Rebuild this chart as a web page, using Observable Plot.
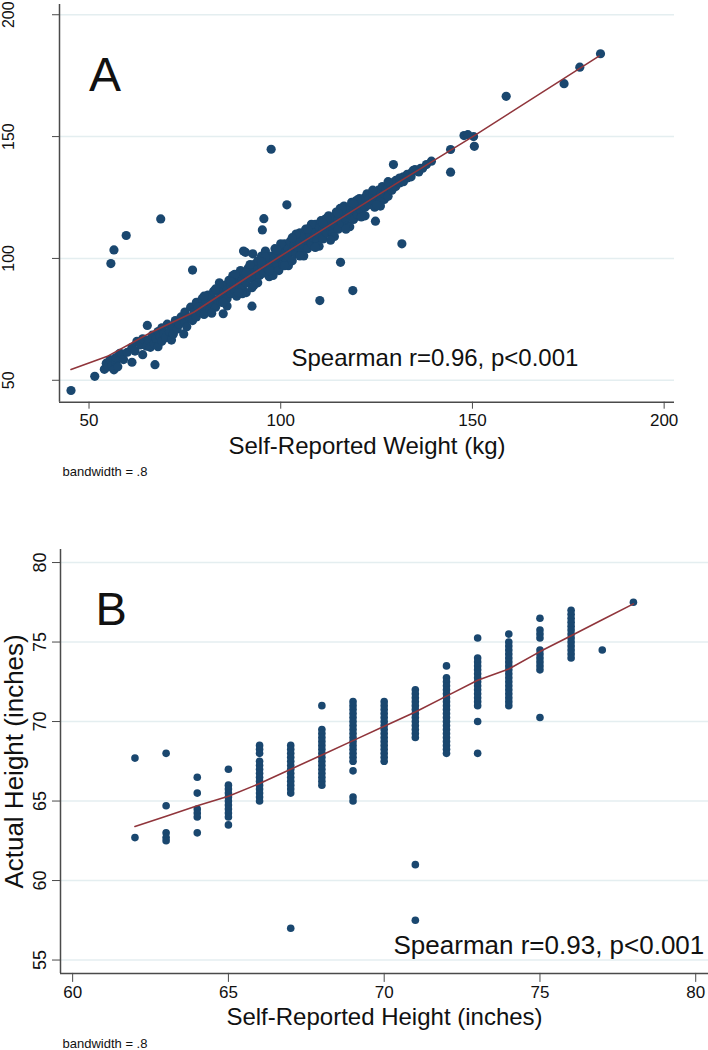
<!DOCTYPE html>
<html><head><meta charset="utf-8">
<script src="https://cdn.jsdelivr.net/npm/d3@7"></script>
<script src="https://cdn.jsdelivr.net/npm/@observablehq/plot@0.6"></script>
<style>
html,body{margin:0;padding:0;background:#fff;}
#chart svg{display:block;}
</style></head><body><div id="chart"></div>
<script>
// ---------- Panel A: weight (kg) ----------
const weightSelf = [45.3,51.5,55.7,56.5,59.7,68.7,67.2,97.5,77,101.6,95.6,95.2,92.5,90.8,92.7,110.2,115.6,118.8,124.7,131.6,129.4,139.3,144.3,144.3,147.8,148.8,150.3,150.5,158.8,173.9,178,183.4,130.9,127,135,136.5,133,132,
54,54.5,55,55.5,56,56.5,57,57,57.5,58,58.6,59,60,61.2,61.2,62,62.5,63.4,64,64,65,65.2,65.5,66,66.5,67,67.5,68,68,68.5,69,69,69.5,70,70.4,71,71.5,72,72,72.5,73,73.5,74,74.7,75,75,75.5,76,76.5,77,77.5,78,78,78.5,79,79.5,80,80,80.5,81,81.5,82,82,82.5,83,83.5,84,84,84.5,85,85,85.5,86,86,86.5,87,87,87.5,88,88,88.5,89,89,89.5,90,90,90.3,90.5,91,91,91.5,92,92,92.5,93,93,93.5,94,94,94.5,95,95,95.5,96,96,96.5,97,97,97.5,98,98,98.5,99,99,99.5,100,100,100.5,101,101,101.5,102,102,102.5,103,103,103.5,104,104,104.5,105,105,105.5,106,106,106.5,107,107,107.5,108,108,108.5,109,109,109.5,110,110,110.5,111,111,111.5,112,112,112.5,113,113,113.5,114,114,114.5,115,115,115.5,116,116,116.5,117,117,117.5,118,118,118.5,119,119,119.5,120,120,120.5,121,121,122,122,122.5,123,123,124,124,124.5,125,125.5,126,126,126.5,127,127.5,128,128,129,129,130,130,131,131,132,133,134,134.5,134,136,137,138,
80,82,84,86,88,90,92,94,96,98,100,102,104,106,108,110,112,114,116,118,120,122,124,126,128,83,87,91,95,99,103,107,111,115,119,85,89,93,97,101,105,109,113,117,121,125];
const weightActual = [45.8,51.6,97.9,103.5,109.4,116.2,56.4,144.8,95.2,122,116.3,111.7,80.4,102.5,101.9,82.7,98.4,86.8,115.3,106,138.5,139.9,144.7,135.4,150.4,150.8,150,146,166.5,171.7,178.5,184,132,124.2,136.5,137,134.5,133.5,
54.5,57,55.5,58.5,56,54.3,57.5,59.3,55.5,61,60.8,58.5,61.5,57.4,63.5,62,66,64.5,60.5,67,64,72.5,66.5,63.5,68.5,65,67,63.8,70,68,66,71.5,69,67.5,73,70,66.5,72,69,74.5,71,73,76,69,74,78,72,76,80,74.5,78,82,76,80,78,83.5,80.5,77,82.5,85,79,81.5,84,86.5,80,83,86,88,82,77.3,85,89,83.5,87,91,85.5,89,93,87,91,84.5,89,93,95,88,91,103,94,86,90,96,92,95,88,94,97.5,91,95.5,99,93,97,101,94,99,103,96,98.5,92.5,101,96,100,104,98,102,95,100,104,97.5,102,106,99,104,101,107,103,99,105.5,108,102,104.5,107,110.5,103,105.5,109,112,107,104,110,112.5,106,108.5,111,114,107.5,110,113,115.5,108,112,116,110.5,114,117.5,112,115.5,110,114,117,119,112,116,120.5,114.5,118,121.5,116,119.5,113.5,118,121,123,116,120,123.5,118,121.5,124.5,119.5,123,121,125,126.5,122,124.5,123.5,126.5,121,125.5,128,124,127,129.5,126.5,128.5,125.5,129.5,128,131,129.5,132,131,133,131.5,133,135,136,133.5,135.5,137,138.5,
84.5,77.5,90,80.5,93.5,85.5,97.5,90,100.5,93,106,97,110,101,114,105,116.5,109,120.5,113,124,117.5,128,121.5,131.5,87.5,90.5,94,98.5,103.5,108.5,112,114.5,118.5,122.5,82,86,89,95,97,101,104.5,107.5,112,117,122];
const weightFitSelf = [45.3,55,66,77.3,92,105,130,150.5,183];
const weightFitActual = [54.4,60,69.5,77.9,93,106,130.6,150.4,183];
const weightXTicks = [50,100,150,200];
const weightYTicks = [50,100,150,200];
const weightXDomain = [42.3,202.7];
const weightYDomain = [41,204.2];

// ---------- Panel B: height (inches) ----------
const heightColumns = [62,63,64,65,66,67,68,69,70,71,72,73,74,75,76,77,78];
const heightActualByColumn = [
  [67.7,62.7],
  [68,64.7,63,62.7,62.5],
  [66.5,65.5,64.5,64.25,64,63],
  [67,66,65.75,65.5,65.25,65,64.75,64.5,64.25,64,63.5],
  [68.5,68.25,68,67.5,67.25,67,66.75,66.5,66.25,66,65.75,65.5,65.25,65],
  [68.5,68.25,68,67.75,67.5,67.25,67,66.75,66.5,66.25,66,65.75,65.5,57],
  [71,69.5,69.25,69,68.75,68.5,68.25,68,67.75,67.5,67.25,67,66.75,66.5,66.25,66],
  [71.25,71,70.75,70.5,70.25,70,69.75,69.5,69.25,69,68.75,68.5,68.25,68,67.75,67.5,66.9,65.25,65],
  [71.25,71,70.75,70.5,70.25,70,69.75,69.5,69.25,69,68.75,68.5,68.25,68,67.75,67.5],
  [72,71.75,71.5,71.25,71,70.75,70.5,70.25,70,69.75,69.5,69.25,69,61,57.5],
  [73.5,72.75,72.5,72.25,72,71.75,71.5,71.25,71,70.75,70.5,70.25,70,69.75,69.5,69.25,69,68.75,68.5,68.25,68],
  [75.25,74,73.75,73.5,73.25,73,72.75,72.5,72.25,72,71.75,71.5,71.25,71,70,68],
  [75.5,75,74.75,74.5,74.25,74,73.75,73.5,73.25,73,72.75,72.5,72.25,72,71.75,71.5,71.25,71],
  [76.5,75.75,75.5,75.25,74.5,74.25,74,73.75,73.5,73.25,70.25],
  [77,76.75,76.5,76.25,76,75.75,75.5,75.25,75,74.75,74.5,74.25,74],
  [74.5],
  [77.5]
];
const heightFitSelf = [62,63,64,65,66,67,68,69,70,71,72,73,74,75,76,77,78];
const heightFitActual = [63.4,64.05,64.7,65.3,66.1,67.0,67.9,68.8,69.7,70.6,71.6,72.6,73.3,74.4,75.4,76.4,77.4];
const heightXTicks = [60,65,70,75,80];
const heightYTicks = [55,60,65,70,75,80];
const heightXDomain = [59.61,80.41];
const heightYDomain = [54.16,80.82];

// ---------- styling ----------
const DOT = "#1a476f", FIT = "#90353b", GRID = "#e4eef0", AXIS = "#4a4a4a", INK = "#111";
const FONT = "'Liberation Sans', Arial, sans-serif";

const weightData = weightSelf.map((s, i) => ({s, a: weightActual[i]}));
const weightFit = weightFitSelf.map((s, i) => ({s, a: weightFitActual[i]}));
const heightData = heightColumns.flatMap((s, i) => heightActualByColumn[i].map(a => ({s, a})));
const heightFit = heightFitSelf.map((s, i) => ({s, a: heightFitActual[i]}));

const chartA = Plot.plot({
  width: 708, height: 490,
  marginLeft: 59, marginRight: 34, marginTop: 4, marginBottom: 88.3,
  style: {fontFamily: FONT, background: "white", color: INK},
  x: {domain: weightXDomain},
  y: {domain: weightYDomain},
  marks: [
    Plot.ruleY(weightYTicks, {stroke: GRID, strokeWidth: 1.5}),
    Plot.ruleX([weightXDomain[0]], {stroke: AXIS, strokeWidth: 1.5}),
    Plot.ruleY([weightYDomain[0]], {stroke: AXIS, strokeWidth: 1.5}),
    Plot.axisX(weightXTicks, {tickSize: 7, tickPadding: 5, fontSize: 17, label: null, color: INK, stroke: AXIS}),
    Plot.axisY(weightYTicks, {tickSize: 7, tickPadding: 39, tickRotate: -90, fontSize: 16, label: null, color: INK, stroke: AXIS}),
    Plot.dot(weightData, {x: "s", y: "a", r: 4.6, fill: DOT, stroke: "none"}),
    Plot.line(weightFit, {x: "s", y: "a", stroke: FIT, strokeWidth: 1.6}),
    Plot.text(["A"], {text: d => d, frameAnchor: "top-left", dx: 29.6, dy: 86.7, lineAnchor: "bottom", textAnchor: "start", fontSize: 48, fill: INK}),
    Plot.text(["Spearman r=0.96, p<0.001"], {text: d => d, frameAnchor: "bottom-left", dx: 232, dy: -36.7, lineAnchor: "bottom", textAnchor: "start", fontSize: 24, fill: INK}),
    Plot.text(["Self-Reported Weight (kg)"], {text: d => d, frameAnchor: "bottom", dy: 52, lineAnchor: "bottom", textAnchor: "middle", fontSize: 24, fill: INK}),
    Plot.text(["bandwidth = .8"], {text: d => d, frameAnchor: "bottom-left", dx: 3, dy: 74, lineAnchor: "bottom", textAnchor: "start", fontSize: 13, fill: INK})
  ]
});

const chartB = Plot.plot({
  width: 708, height: 560,
  marginLeft: 60, marginRight: 0, marginTop: 59, marginBottom: 77.1,
  style: {fontFamily: FONT, background: "white", color: INK},
  x: {domain: heightXDomain},
  y: {domain: heightYDomain},
  marks: [
    Plot.ruleY(heightYTicks, {stroke: GRID, strokeWidth: 1.5}),
    Plot.ruleX([heightXDomain[0]], {stroke: AXIS, strokeWidth: 1.5}),
    Plot.ruleY([heightYDomain[0]], {stroke: AXIS, strokeWidth: 1.5}),
    Plot.axisX(heightXTicks, {tickSize: 9, tickPadding: 4, fontSize: 17, label: null, color: INK, stroke: AXIS}),
    Plot.axisY(heightYTicks, {tickSize: 8, tickPadding: 7, tickRotate: -90, fontSize: 18, label: null, color: INK, stroke: AXIS}),
    Plot.dot(heightData, {x: "s", y: "a", r: 3.8, fill: DOT, stroke: "none"}),
    Plot.line(heightFit, {x: "s", y: "a", stroke: FIT, strokeWidth: 1.6}),
    Plot.text(["B"], {text: d => d, frameAnchor: "top-left", dx: 35, dy: 75.6, lineAnchor: "bottom", textAnchor: "start", fontSize: 47, fill: INK}),
    Plot.text(["Spearman r=0.93, p<0.001"], {text: d => d, frameAnchor: "bottom-left", dx: 333, dy: -19.6, lineAnchor: "bottom", textAnchor: "start", fontSize: 26, fill: INK}),
    Plot.text(["Self-Reported Height (inches)"], {text: d => d, frameAnchor: "bottom", dy: 51.5, lineAnchor: "bottom", textAnchor: "middle", fontSize: 24, fill: INK}),
    Plot.text(["Actual Height (inches)"], {text: d => d, frameAnchor: "left", dx: -37.3, rotate: -90, lineAnchor: "bottom", textAnchor: "middle", fontSize: 26, fill: INK}),
    Plot.text(["bandwidth = .8"], {text: d => d, frameAnchor: "bottom-left", dx: 2, dy: 75, lineAnchor: "bottom", textAnchor: "start", fontSize: 13, fill: INK})
  ]
});

document.getElementById("chart").append(chartA, chartB);
</script></body></html>
